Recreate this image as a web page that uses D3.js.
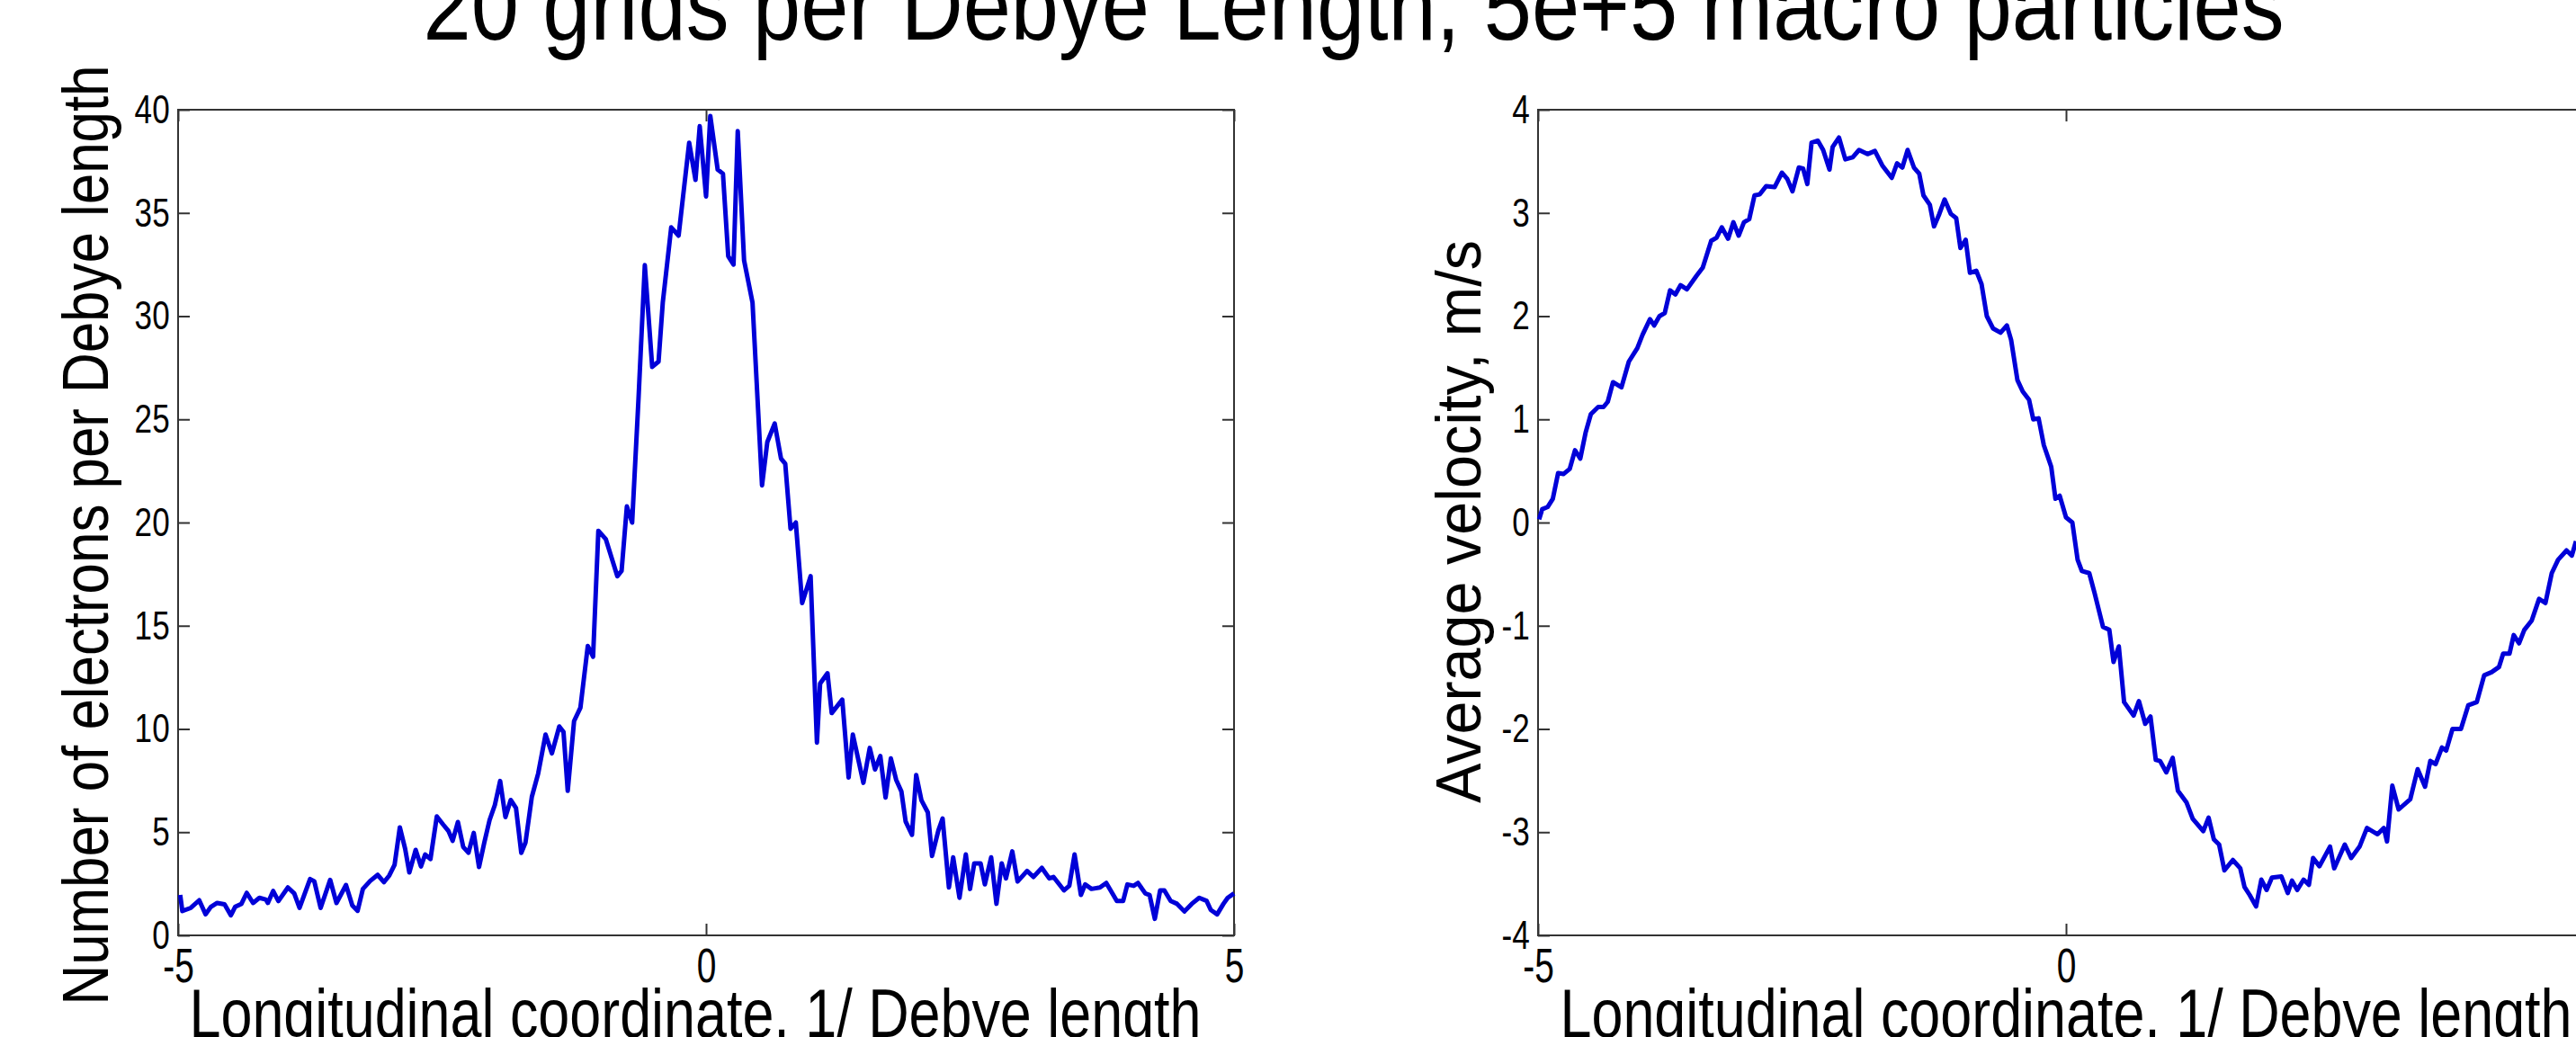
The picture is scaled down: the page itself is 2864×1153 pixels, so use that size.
<!DOCTYPE html>
<html><head><meta charset="utf-8">
<script src="https://cdn.jsdelivr.net/npm/d3@7"></script>
<style>
html,body{margin:0;padding:0;background:#fff;overflow:hidden}
svg text{font-family:"Liberation Sans",Arial,Helvetica,sans-serif;fill:#000}
</style></head><body>
<svg id="c" width="2864" height="1153"></svg>
<script>
const titleText = "20 grids per Debye Length, 5e+5 macro particles";
const xLabelText = "Longitudinal coordinate, 1/ Debye length";
const densityLabel = "Number of electrons per Debye length";
const velocityLabel = "Average velocity, m/s";
const xTicks = [-5, 0, 5];
const densityTicks = [0, 5, 10, 15, 20, 25, 30, 35, 40];
const velocityTicks = [-4, -3, -2, -1, 0, 1, 2, 3, 4];

const densityX = [-4.98,-4.96,-4.88,-4.80,-4.74,-4.69,-4.63,-4.56,-4.50,-4.46,-4.40,-4.35,-4.29,-4.23,-4.17,-4.15,-4.10,-4.05,-3.96,-3.90,-3.85,-3.75,-3.71,-3.65,-3.56,-3.50,-3.41,-3.35,-3.30,-3.25,-3.18,-3.11,-3.05,-3.00,-2.95,-2.90,-2.85,-2.81,-2.75,-2.70,-2.66,-2.61,-2.55,-2.49,-2.44,-2.40,-2.35,-2.30,-2.25,-2.20,-2.15,-2.10,-2.05,-2.00,-1.95,-1.90,-1.85,-1.80,-1.75,-1.71,-1.65,-1.59,-1.52,-1.46,-1.39,-1.35,-1.31,-1.25,-1.19,-1.12,-1.07,-1.02,-0.95,-0.84,-0.80,-0.75,-0.70,-0.64,-0.58,-0.51,-0.45,-0.41,-0.33,-0.26,-0.16,-0.10,-0.06,0.00,0.04,0.11,0.16,0.21,0.26,0.30,0.36,0.44,0.53,0.58,0.65,0.71,0.75,0.80,0.85,0.91,0.99,1.05,1.08,1.15,1.19,1.29,1.35,1.39,1.49,1.55,1.60,1.65,1.70,1.75,1.80,1.85,1.89,1.95,1.99,2.04,2.10,2.14,2.20,2.24,2.30,2.34,2.40,2.46,2.50,2.54,2.60,2.64,2.70,2.75,2.80,2.84,2.90,2.95,3.04,3.10,3.18,3.25,3.29,3.39,3.44,3.49,3.55,3.59,3.65,3.73,3.79,3.89,3.95,3.99,4.05,4.09,4.16,4.20,4.25,4.30,4.34,4.40,4.46,4.53,4.60,4.67,4.74,4.78,4.84,4.90,4.94,5.00];
const densityY = [1.96,1.18,1.33,1.70,1.02,1.38,1.57,1.50,0.97,1.38,1.53,2.06,1.57,1.82,1.74,1.57,2.15,1.66,2.32,2.03,1.33,2.73,2.62,1.33,2.69,1.57,2.44,1.45,1.19,2.25,2.64,2.93,2.58,2.90,3.41,5.23,4.20,3.05,4.14,3.34,3.92,3.70,5.76,5.37,5.06,4.58,5.49,4.29,4.00,4.96,3.31,4.50,5.59,6.32,7.48,5.73,6.56,6.17,4.00,4.50,6.71,7.84,9.73,8.82,10.12,9.86,7.00,10.38,11.03,14.02,13.50,19.60,19.20,17.40,17.66,20.78,20.00,25.97,32.47,27.54,27.80,30.65,34.30,33.90,38.40,36.60,39.20,35.80,39.70,37.10,36.90,32.90,32.50,38.96,32.70,30.65,21.80,23.90,24.80,23.10,22.85,19.70,20.00,16.10,17.40,9.34,12.20,12.70,10.77,11.42,7.65,9.73,7.39,9.08,8.04,8.69,6.68,8.57,7.54,6.97,5.52,4.87,7.77,6.54,5.96,3.85,5.08,5.66,2.32,3.78,1.82,3.92,2.25,3.49,3.49,2.47,3.78,1.53,3.49,2.76,4.07,2.61,3.12,2.83,3.27,2.76,2.83,2.18,2.40,3.92,1.96,2.47,2.25,2.32,2.54,1.67,1.67,2.47,2.40,2.54,2.03,1.96,0.80,2.18,2.18,1.67,1.53,1.16,1.53,1.82,1.67,1.23,1.02,1.53,1.82,2.03];

const velocityX = [-4.99,-4.96,-4.91,-4.86,-4.81,-4.76,-4.70,-4.65,-4.60,-4.55,-4.50,-4.43,-4.38,-4.34,-4.29,-4.21,-4.14,-4.06,-4.01,-3.94,-3.90,-3.85,-3.80,-3.75,-3.70,-3.65,-3.59,-3.50,-3.44,-3.36,-3.31,-3.26,-3.20,-3.15,-3.10,-3.05,-3.00,-2.95,-2.90,-2.84,-2.76,-2.69,-2.64,-2.59,-2.53,-2.49,-2.45,-2.41,-2.35,-2.30,-2.24,-2.21,-2.15,-2.09,-2.02,-1.96,-1.88,-1.81,-1.74,-1.65,-1.60,-1.55,-1.50,-1.44,-1.39,-1.35,-1.29,-1.25,-1.20,-1.15,-1.09,-1.04,-1.00,-0.95,-0.91,-0.85,-0.80,-0.75,-0.69,-0.62,-0.56,-0.52,-0.46,-0.41,-0.35,-0.31,-0.26,-0.21,-0.14,-0.10,-0.06,0.00,0.06,0.11,0.15,0.22,0.27,0.35,0.41,0.45,0.50,0.55,0.64,0.69,0.75,0.80,0.85,0.89,0.95,1.01,1.06,1.14,1.20,1.30,1.35,1.40,1.45,1.50,1.58,1.65,1.69,1.74,1.80,1.85,1.90,1.95,2.04,2.10,2.14,2.19,2.25,2.30,2.34,2.40,2.50,2.54,2.64,2.70,2.78,2.85,2.95,3.01,3.04,3.09,3.15,3.26,3.33,3.40,3.45,3.50,3.56,3.60,3.66,3.74,3.81,3.89,3.96,4.03,4.10,4.14,4.20,4.24,4.29,4.34,4.41,4.48,4.54,4.60,4.66,4.74,4.79,4.83];
const velocityY = [0.03,0.13,0.15,0.23,0.48,0.47,0.52,0.70,0.62,0.87,1.05,1.12,1.12,1.17,1.36,1.31,1.56,1.69,1.82,1.97,1.91,2.00,2.03,2.25,2.21,2.30,2.26,2.39,2.47,2.73,2.76,2.86,2.75,2.91,2.78,2.91,2.94,3.17,3.18,3.26,3.25,3.39,3.33,3.21,3.44,3.43,3.28,3.68,3.70,3.61,3.42,3.64,3.73,3.52,3.54,3.61,3.57,3.60,3.46,3.34,3.48,3.44,3.61,3.44,3.38,3.17,3.08,2.87,2.99,3.13,2.99,2.95,2.66,2.74,2.42,2.44,2.31,2.00,1.88,1.84,1.91,1.77,1.38,1.27,1.19,1.00,1.01,0.75,0.54,0.23,0.26,0.05,0.00,-0.36,-0.47,-0.49,-0.68,-1.01,-1.04,-1.35,-1.20,-1.74,-1.87,-1.73,-1.95,-1.88,-2.30,-2.31,-2.42,-2.28,-2.60,-2.71,-2.87,-2.99,-2.86,-3.07,-3.12,-3.37,-3.27,-3.35,-3.53,-3.61,-3.72,-3.46,-3.56,-3.44,-3.43,-3.59,-3.47,-3.56,-3.46,-3.51,-3.25,-3.33,-3.14,-3.35,-3.12,-3.25,-3.14,-2.96,-3.02,-2.96,-3.09,-2.55,-2.78,-2.68,-2.39,-2.56,-2.31,-2.34,-2.18,-2.21,-2.00,-2.00,-1.77,-1.74,-1.48,-1.45,-1.40,-1.27,-1.27,-1.09,-1.17,-1.04,-0.95,-0.74,-0.78,-0.49,-0.36,-0.27,-0.32,-0.18];

const svg = d3.select("#c");
const plotTop = 122, plotBottom = 1040;
const axisColor = "#333";
const lineColor = "#0000d8";
const fmt = d => String(d);

function panel(cfg) {
  const x = d3.scaleLinear().domain([-5, 5]).range([cfg.left, cfg.right]);
  const y = d3.scaleLinear().domain(cfg.yDomain).range([plotBottom, plotTop]);
  const g = svg.append("g");

  const styleAxis = sel => {
    sel.select(".domain").remove();
    sel.attr("font-size", null).attr("font-family", null);
    sel.selectAll(".tick line").attr("stroke", axisColor).attr("stroke-width", 2);
    sel.selectAll(".tick text").attr("fill", "#000");
  };

  g.append("g").attr("transform", `translate(0,${plotBottom})`)
    .call(d3.axisBottom(x).tickValues(xTicks).tickSize(-13).tickPadding(14).tickFormat(fmt)).call(styleAxis)
    .selectAll(".tick text").attr("font-size", 54).attr("transform", "scale(0.72,1)");
  g.append("g").attr("transform", `translate(0,${plotTop})`)
    .call(d3.axisTop(x).tickValues(xTicks).tickSize(-13).tickFormat("")).call(styleAxis);
  g.append("g").attr("transform", `translate(${cfg.left},0)`)
    .call(d3.axisLeft(y).tickValues(cfg.yTicks).tickSize(-13).tickPadding(12).tickFormat(fmt)).call(styleAxis)
    .selectAll(".tick text").attr("font-size", 45).attr("transform", "scale(0.78,1)");
  g.append("g").attr("transform", `translate(${cfg.right},0)`)
    .call(d3.axisRight(y).tickValues(cfg.yTicks).tickSize(-13).tickFormat("")).call(styleAxis);

  g.append("rect").attr("x", cfg.left).attr("y", plotTop)
    .attr("width", cfg.right - cfg.left).attr("height", plotBottom - plotTop)
    .attr("fill", "none").attr("stroke", axisColor).attr("stroke-width", 2);

  const pts = cfg.xs.map((v, i) => [v, cfg.ys[i]]);
  g.append("path").datum(pts)
    .attr("fill", "none").attr("stroke", lineColor).attr("stroke-width", 5)
    .attr("stroke-linejoin", "round")
    .attr("d", d3.line().x(d => x(d[0])).y(d => y(d[1])));

  g.append("text").attr("x", x(0) + cfg.xLabelShift).attr("y", 1153).attr("text-anchor", "middle")
    .attr("font-size", 76).attr("textLength", 1125).attr("lengthAdjust", "spacingAndGlyphs")
    .text(xLabelText);
  g.append("text").attr("transform", `translate(${cfg.yLabelX},${cfg.yLabelY}) rotate(-90)`)
    .attr("text-anchor", "middle").attr("font-size", cfg.yLabelSize)
    .attr("textLength", cfg.yLabelLen).attr("lengthAdjust", "spacingAndGlyphs")
    .text(cfg.yLabel);
}

panel({left: 198, right: 1372, yDomain: [0, 40], yTicks: densityTicks, xs: densityX, ys: densityY,
       yLabel: densityLabel, yLabelX: 120, yLabelY: 595, yLabelLen: 1045, yLabelSize: 72, xLabelShift: -12});
panel({left: 1710, right: 2884, yDomain: [-4, 4], yTicks: velocityTicks, xs: velocityX, ys: velocityY,
       yLabel: velocityLabel, yLabelX: 1646, yLabelY: 580, yLabelLen: 626, yLabelSize: 70, xLabelShift: 0});

svg.append("text").attr("x", 1505).attr("y", 44).attr("text-anchor", "middle")
  .attr("font-size", 110).attr("textLength", 2069).attr("lengthAdjust", "spacingAndGlyphs")
  .text(titleText);
</script>
</body></html>
